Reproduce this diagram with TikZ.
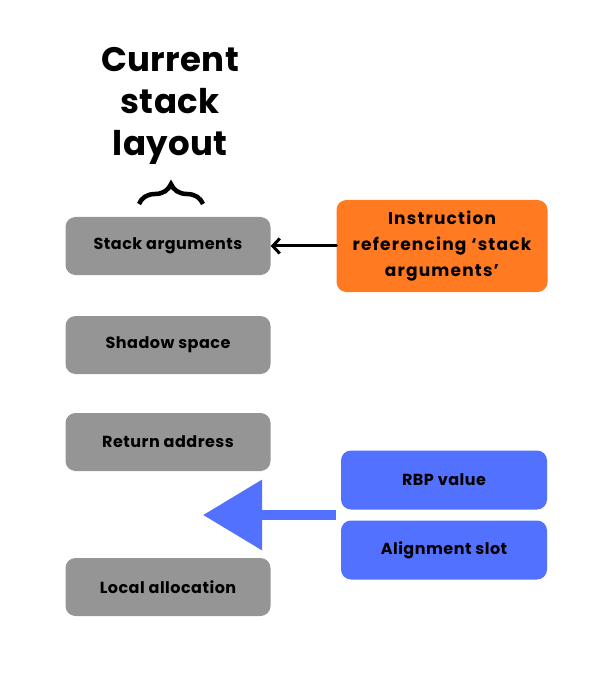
\documentclass[tikz,border=0pt]{standalone}
\usepackage{fontspec}
\setmainfont{Poppins}
\usetikzlibrary{arrows.meta,positioning,decorations.pathreplacing}
\definecolor{slotgray}{HTML}{959595}
\definecolor{refor}{HTML}{FF7A21}
\definecolor{pushblue}{HTML}{5271FF}
\begin{document}
\begin{tikzpicture}[x=1pt,y=-1pt,
  slot/.style={rounded corners=10pt, fill=#1, minimum width=205pt, minimum height=58pt,
    font=\bfseries\fontsize{16}{19}\selectfont\addfontfeature{LetterSpace=3}, align=center, inner sep=0pt},
  arr/.style={-{Straight Barb[length=7pt,width=15pt]}, line width=3pt, line cap=round},
  bigarr/.style={-{Triangle[length=59pt,width=68pt]}, pushblue, line width=10pt}
]
  \useasboundingbox (0,0) rectangle (611,692);
  % title and brace
  \node[font=\bfseries\fontsize{34}{42}\selectfont\addfontfeature{LetterSpace=1}, align=center] (title) at (170,106)
    {Current\\stack\\layout};
  \draw[line width=4.5pt, decorate, decoration={brace, amplitude=20pt}]
    (139,204) -- (203,204);
  % current stack
  \node[slot=slotgray] (args) at (168,246) {Stack arguments};
  \node[slot=slotgray] (shadow) at (168,345) {Shadow space};
  \node[slot=slotgray] (ret) at (168,442) {Return address};
  \node[slot=slotgray] (local) at (168,587) {Local allocation};
  % instruction
  \node[slot=refor, minimum width=211pt, minimum height=92pt,
    font=\bfseries\fontsize{17}{26}\selectfont\addfontfeature{LetterSpace=7}] (instr) at (442,246)
    {Instruction\\referencing ‘stack\\arguments’};
  \draw[arr] (instr) -- (args);
  % pushed values
  \node[slot=pushblue, minimum width=206pt, minimum height=59pt] (rbp) at (444,480) {RBP value};
  \node[slot=pushblue, minimum width=206pt, minimum height=59pt] (align) at (444,550) {Alignment slot};
  \coordinate (ins) at (336,515);
  \coordinate (gap) at (203,515);
  \draw[bigarr] (ins) -- (gap);
\end{tikzpicture}
\end{document}
